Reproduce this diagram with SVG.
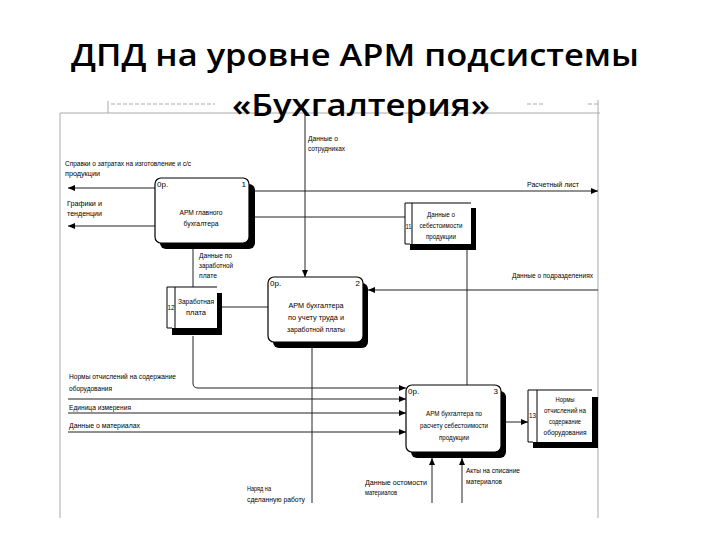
<svg xmlns="http://www.w3.org/2000/svg" width="720" height="540" viewBox="0 0 720 540">
<defs>
<style>
.t{font-family:"Liberation Sans",Arial,sans-serif;font-size:8px;fill:#000}
.m{text-anchor:middle}
.e{text-anchor:end}
.ttl{font-family:"Open Sans","Noto Sans",sans-serif;font-weight:600;font-size:31px;fill:#000}
.c{fill:none;stroke:#222;stroke-width:1}
.f{fill:none;stroke:#aaa;stroke-width:1}
.box{fill:#fff;stroke:#000;stroke-width:1.2}
.sh{fill:#000}
.st{fill:none;stroke:#000;stroke-width:1}
</style>
<marker id="a" markerWidth="7" markerHeight="6" refX="7" refY="3" orient="auto" markerUnits="userSpaceOnUse">
<path d="M0,0 L7,3 L0,6 Z" fill="#000"/>
</marker>
</defs>
<rect width="720" height="540" fill="#fff"/>

<g id="frame">
<path class="f" d="M60,113 H600 M60,113 V518 M598,100 V518 M108,101 V113"/>
<path class="f" d="M111,104 H215 M527,104 H545 M588,104 H600" stroke-dasharray="4,2"/>
</g>

<g id="connectors">
<path class="c" d="M155,188 H68" marker-end="url(#a)"/>
<path class="c" d="M155,226 H68" marker-end="url(#a)"/>
<path class="c" d="M253,191 H598" marker-end="url(#a)"/>
<path class="c" d="M253,217 H405"/>
<path class="c" d="M305,113 V277" marker-end="url(#a)"/>
<path class="c" d="M193,249 V287"/>
<path class="c" d="M222,307 H268"/>
<path class="c" d="M598,290 H368" marker-end="url(#a)"/>
<path class="c" d="M467,250 V385"/>
<path class="c" d="M193,336 V383 Q193,388 198,388 H406" marker-end="url(#a)"/>
<path class="c" d="M68,399 H406" marker-end="url(#a)"/>
<path class="c" d="M68,413 H406" marker-end="url(#a)"/>
<path class="c" d="M68,432 H406" marker-end="url(#a)"/>
<path class="c" d="M312,348 V503"/>
<path class="c" d="M432,503 V458" marker-end="url(#a)"/>
<path class="c" d="M462,503 V458" marker-end="url(#a)"/>
<path class="c" d="M506,422 H528" marker-end="url(#a)"/>
</g>

<g id="labels">
<text class="t" x="65" y="166" textLength="126" lengthAdjust="spacingAndGlyphs">Справки о затратах на изготовление и с/с</text>
<text class="t" x="65" y="176" textLength="35" lengthAdjust="spacingAndGlyphs">продукции</text>
<text class="t" x="67" y="206" textLength="35" lengthAdjust="spacingAndGlyphs">Графики и</text>
<text class="t" x="67" y="216" textLength="35" lengthAdjust="spacingAndGlyphs">тенденции</text>
<text class="t" x="308" y="141" textLength="30" lengthAdjust="spacingAndGlyphs">Данные о</text>
<text class="t" x="308" y="151" textLength="37" lengthAdjust="spacingAndGlyphs">сотрудниках</text>
<text class="t" x="527" y="187" textLength="52" lengthAdjust="spacingAndGlyphs">Расчетный лист</text>
<text class="t" x="199" y="258" textLength="33" lengthAdjust="spacingAndGlyphs">Данные по</text>
<text class="t" x="199" y="268" textLength="34" lengthAdjust="spacingAndGlyphs">заработной</text>
<text class="t" x="199" y="278" textLength="18" lengthAdjust="spacingAndGlyphs">плате</text>
<text class="t" x="512" y="278" textLength="81" lengthAdjust="spacingAndGlyphs">Данные о подразделениях</text>
<text class="t" x="69" y="379" textLength="107" lengthAdjust="spacingAndGlyphs">Нормы отчислений на содержание</text>
<text class="t" x="69" y="391" textLength="43" lengthAdjust="spacingAndGlyphs">оборудования</text>
<text class="t" x="69" y="410" textLength="62" lengthAdjust="spacingAndGlyphs">Единица измерения</text>
<text class="t" x="69" y="428" textLength="71" lengthAdjust="spacingAndGlyphs">Данные о материалах</text>
<text class="t" x="247" y="491" textLength="24" lengthAdjust="spacingAndGlyphs">Наряд на</text>
<text class="t" x="247" y="502" textLength="58" lengthAdjust="spacingAndGlyphs">сделанную работу</text>
<text class="t" x="365" y="485" textLength="62" lengthAdjust="spacingAndGlyphs">Данные остомости</text>
<text class="t" x="365" y="495" textLength="32" lengthAdjust="spacingAndGlyphs">материалов</text>
<text class="t" x="466" y="473" textLength="54" lengthAdjust="spacingAndGlyphs">Акты на списание</text>
<text class="t" x="466" y="484" textLength="36" lengthAdjust="spacingAndGlyphs">материалов</text>
</g>

<g id="node1">
<rect class="sh" x="160" y="184" width="95" height="65" rx="6"/>
<rect class="box" x="155" y="178" width="94" height="65" rx="6"/>
<text class="t" x="157" y="187">0р.</text>
<text class="t e" x="246" y="187">1</text>
<text class="t m" x="201" y="215" textLength="43" lengthAdjust="spacingAndGlyphs">АРМ главного</text>
<text class="t m" x="201" y="226" textLength="35" lengthAdjust="spacingAndGlyphs">бухгалтера</text>
</g>

<g id="node2">
<rect class="sh" x="273" y="283" width="95" height="65" rx="6"/>
<rect class="box" x="268" y="277" width="95" height="65" rx="6"/>
<text class="t" x="270" y="286">0р.</text>
<text class="t e" x="360" y="286">2</text>
<text class="t m" x="316" y="308" textLength="55" lengthAdjust="spacingAndGlyphs">АРМ бухгалтера</text>
<text class="t m" x="316" y="320" textLength="56" lengthAdjust="spacingAndGlyphs">по учету труда и</text>
<text class="t m" x="316" y="332" textLength="58" lengthAdjust="spacingAndGlyphs">заработной платы</text>
</g>

<g id="node3">
<rect class="sh" x="411" y="391" width="95" height="67" rx="6"/>
<rect class="box" x="406" y="385" width="95" height="67" rx="6"/>
<text class="t" x="408" y="394">0р.</text>
<text class="t e" x="498" y="394">3</text>
<text class="t m" x="454" y="416" textLength="56" lengthAdjust="spacingAndGlyphs">АРМ бухгалтера по</text>
<text class="t m" x="454" y="428" textLength="68" lengthAdjust="spacingAndGlyphs">расчету себестоимости</text>
<text class="t m" x="454" y="440" textLength="30" lengthAdjust="spacingAndGlyphs">продукции</text>
</g>

<g id="store11">
<rect class="sh" x="410" y="208" width="66" height="42"/>
<rect x="405" y="203" width="66" height="41" fill="#fff"/>
<path class="st" d="M471,203 H405 V244 H410 M412,203 V244"/>
<text class="t m" x="408.5" y="229" textLength="6" lengthAdjust="spacingAndGlyphs">11</text>
<text class="t m" x="441" y="217" textLength="28" lengthAdjust="spacingAndGlyphs">Данные о</text>
<text class="t m" x="441" y="228" textLength="43" lengthAdjust="spacingAndGlyphs">себестоимости</text>
<text class="t m" x="441" y="239" textLength="30" lengthAdjust="spacingAndGlyphs">продукции</text>
</g>

<g id="store12">
<rect class="sh" x="172" y="293" width="50" height="42"/>
<rect x="167" y="287" width="50" height="41" fill="#fff"/>
<path class="st" d="M217,287 H167 V328 H172 M175,287 V328"/>
<text class="t m" x="171" y="310" textLength="7" lengthAdjust="spacingAndGlyphs">12</text>
<text class="t m" x="196" y="304" textLength="36" lengthAdjust="spacingAndGlyphs">Заработная</text>
<text class="t m" x="196" y="315" textLength="20" lengthAdjust="spacingAndGlyphs">плата</text>
</g>

<g id="store13">
<rect class="sh" x="533" y="397" width="65" height="51"/>
<rect x="528" y="390" width="64" height="52" fill="#fff"/>
<path class="st" d="M592,390 H528 V442 H533 M537,390 V442"/>
<text class="t m" x="532.5" y="418" textLength="7" lengthAdjust="spacingAndGlyphs">13</text>
<text class="t m" x="565" y="402" textLength="19" lengthAdjust="spacingAndGlyphs">Нормы</text>
<text class="t m" x="565" y="413" textLength="42" lengthAdjust="spacingAndGlyphs">отчислений на</text>
<text class="t m" x="565" y="424" textLength="32" lengthAdjust="spacingAndGlyphs">содержание</text>
<text class="t m" x="565" y="435" textLength="43" lengthAdjust="spacingAndGlyphs">оборудования</text>
</g>

<g id="title">
<text class="ttl" x="71" y="66" textLength="568" lengthAdjust="spacingAndGlyphs">ДПД на уровне АРМ подсистемы</text>
<text class="ttl" x="232" y="116" textLength="258" lengthAdjust="spacingAndGlyphs">«Бухгалтерия»</text>
</g>
</svg>
